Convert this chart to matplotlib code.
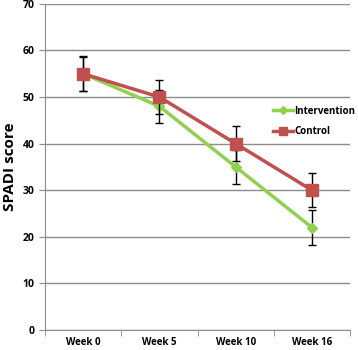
import matplotlib.pyplot as plt
import numpy as np

# Data
weeks = ["Week 0", "Week 5", "Week 10", "Week 16"]
intervention = [55, 48, 35, 22]
intervention_err = [3.7, 3.6, 3.7, 3.7]
control = [55, 50, 40, 30]
control_err = [3.8, 3.7, 3.8, 3.7]

GREEN = '#92D050'
RED = '#C0504D'
GRID = '#8c8c8c'

plt.rcParams['font.family'] = ['Open Sans', 'DejaVu Sans']

fig = plt.figure(figsize=(3.58, 3.5), dpi=100)
ax = fig.add_axes([0.126, 0.057, 0.852, 0.932])

x = np.arange(len(weeks))

ax.errorbar(x, intervention, yerr=intervention_err, color=GREEN, lw=2.5,
            marker='D', markersize=5, ecolor='black', elinewidth=1,
            capsize=3, capthick=1, label='Intervention', zorder=3)
ax.errorbar(x, control, yerr=control_err, color=RED, lw=2.5,
            marker='s', markersize=8, ecolor='black', elinewidth=1,
            capsize=3, capthick=1, label='Control', zorder=4)

ax.set_xlim(-0.5, len(weeks) - 0.5)
ax.set_ylim(0, 70)
ax.set_yticks(range(0, 71, 10))
ax.set_xticks(x)
ax.set_xticklabels(weeks, fontsize=7, fontweight='bold')
ax.set_xticks(np.arange(-0.5, len(weeks)), minor=True)
ax.tick_params(axis='x', which='major', length=0, pad=5)
ax.tick_params(axis='x', which='minor', length=4, color=GRID)
ax.tick_params(axis='y', length=4, color=GRID, labelsize=7.5)
for lbl in ax.get_yticklabels():
    lbl.set_fontweight('bold')

ax.yaxis.grid(True, color=GRID, lw=1)
ax.set_axisbelow(True)
for s in ['top', 'right']:
    ax.spines[s].set_visible(False)
ax.spines['left'].set_color(GRID)
ax.spines['bottom'].set_color(GRID)

ax.set_ylabel("SPADI score", fontsize=11, fontweight='bold', labelpad=4)

handles, labels = ax.get_legend_handles_labels()
handles = [h[0] for h in handles]
leg = ax.legend(handles, labels, loc='upper left', bbox_to_anchor=(0.735, 0.70),
                frameon=False, fontsize=7, handlelength=2.0, handletextpad=0.15,
                labelspacing=1.0, borderaxespad=0, markerscale=0.75)
for t in leg.get_texts():
    t.set_fontweight('bold')

fig.savefig('out.png', dpi=100)
